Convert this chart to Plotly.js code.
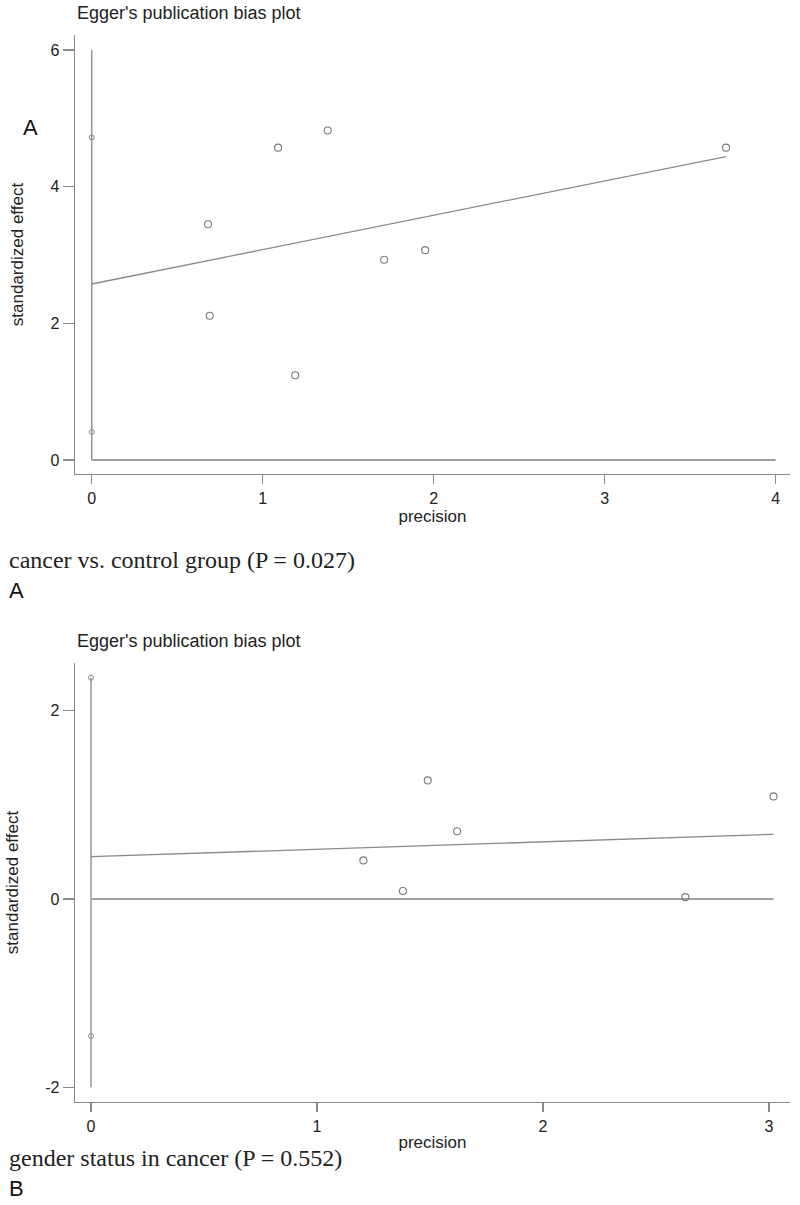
<!DOCTYPE html>
<html>
<head>
<meta charset="utf-8">
<script src="https://cdn.plot.ly/plotly-3.0.1.min.js"></script>
<style>
  html, body { margin: 0; padding: 0; background: #ffffff; }
  #chart { width: 800px; height: 1205px; }
</style>
</head>
<body>
<div id="chart"></div>
<script>
// ---------- Panel A: cancer vs. control group ----------
const precisionA = [0.68, 0.69, 1.09, 1.19, 1.38, 1.71, 1.95, 3.71];
const effectA    = [3.45, 2.11, 4.57, 1.24, 4.82, 2.93, 3.07, 4.57];
const ciPrecisionA = [0, 0];
const ciEffectA    = [0.41, 4.72];
const fitPrecisionA = [0, 3.71];
const fitEffectA    = [2.575, 4.44];
const vertLineA_y = [0, 6];
const horizLineA_x = [0, 4];
const xTicksA = [0, 1, 2, 3, 4];
const yTicksA = [0, 2, 4, 6];
const captionA = "cancer vs. control group (P = 0.027)";

// ---------- Panel B: gender status in cancer ----------
const precisionB = [1.205, 1.38, 1.49, 1.62, 2.63, 3.02];
const effectB    = [0.41, 0.085, 1.26, 0.72, 0.02, 1.09];
const ciPrecisionB = [0, 0];
const ciEffectB    = [-1.455, 2.35];
const fitPrecisionB = [0, 3.02];
const fitEffectB    = [0.45, 0.687];
const vertLineB_y = [-2, 2.35];
const horizLineB_x = [0, 3.02];
const xTicksB = [0, 1, 2, 3];
const yTicksB = [-2, 0, 2];
const captionB = "gender status in cancer (P = 0.552)";

const plotTitle = "Egger's publication bias plot";
const xTitle = "precision";
const yTitle = "standardized effect";

// ---------- styles ----------
const SANS = "Liberation Sans, Arial, sans-serif";
const SERIF = "Liberation Serif, Times New Roman, serif";
const AXC = "#8a8a8a";
const TXT = "#222222";
const W = 800, H = 1205;
const py = p => 1 - p / H;

function panelTraces(xa, ya, prec, eff, ciP, ciE, fitP, fitE, vY, hX) {
  return [
    { type: "scatter", mode: "lines", x: [0, 0], y: vY, xaxis: xa, yaxis: ya,
      line: { color: "#8f8f8f", width: 1.4 }, hoverinfo: "skip" },
    { type: "scatter", mode: "lines", x: hX, y: [0, 0], xaxis: xa, yaxis: ya,
      line: { color: "#a0a0a0", width: 2 }, hoverinfo: "skip" },
    { type: "scatter", mode: "lines", x: fitP, y: fitE, xaxis: xa, yaxis: ya,
      line: { color: "#8a8a8a", width: 1.3 } },
    { type: "scatter", mode: "markers", x: ciP, y: ciE, xaxis: xa, yaxis: ya,
      marker: { symbol: "circle-open", size: 5, color: "#8a8a8a", line: { width: 1 } } },
    { type: "scatter", mode: "markers", x: prec, y: eff, xaxis: xa, yaxis: ya,
      marker: { symbol: "circle-open", size: 7, color: "#7a7a7a", line: { width: 1.1 } } }
  ];
}

const data = [].concat(
  panelTraces("x", "y", precisionA, effectA, ciPrecisionA, ciEffectA, fitPrecisionA, fitEffectA, vertLineA_y, horizLineA_x),
  panelTraces("x2", "y2", precisionB, effectB, ciPrecisionB, ciEffectB, fitPrecisionB, fitEffectB, vertLineB_y, horizLineB_x)
);

function xAxis(domainY, anchor, range, ticks) {
  return {
    domain: [75 / W, 790 / W], anchor: anchor, range: range,
    tickmode: "array", tickvals: ticks, ticktext: ticks.map(String),
    showline: true, linecolor: AXC, linewidth: 1.3,
    ticks: "outside", ticklen: 9, tickcolor: AXC, tickwidth: 1.2,
    showgrid: false, zeroline: false,
    tickfont: { family: SANS, size: 16, color: TXT },
    title: { text: xTitle, font: { family: SANS, size: 17, color: TXT }, standoff: 2 }
  };
}
function yAxis(domain, anchor, range, ticks) {
  return {
    domain: domain, anchor: anchor, range: range,
    tickmode: "array", tickvals: ticks, ticktext: ticks.map(String),
    showline: true, linecolor: AXC, linewidth: 1.3,
    ticks: "outside", ticklen: 11, tickcolor: AXC, tickwidth: 1.2,
    showgrid: false, zeroline: false,
    tickfont: { family: SANS, size: 16, color: TXT },
    title: { text: yTitle, font: { family: SANS, size: 17, color: TXT }, standoff: 22 }
  };
}

const layout = {
  width: W, height: H,
  margin: { l: 0, r: 0, t: 0, b: 0 },
  paper_bgcolor: "#ffffff", plot_bgcolor: "#ffffff",
  showlegend: false,
  xaxis: xAxis(null, "y", [-0.098, 4.084], xTicksA),
  yaxis: yAxis([py(474), py(35)], "x", [-0.205, 6.218], yTicksA),
  xaxis2: xAxis(null, "y2", [-0.071, 3.093], xTicksB),
  yaxis2: yAxis([py(1102), py(663)], "x2", [-2.156, 2.507], yTicksB),
  annotations: [
    { text: plotTitle, xref: "paper", yref: "paper", x: 75 / W, y: py(13), xanchor: "left", yanchor: "middle",
      showarrow: false, font: { family: SANS, size: 18, color: TXT } },
    { text: "A", xref: "paper", yref: "paper", x: 30 / W, y: py(128), xanchor: "center", yanchor: "middle",
      showarrow: false, font: { family: SANS, size: 22, color: "#111" } },
    { text: captionA, xref: "paper", yref: "paper", x: 7 / W, y: py(560), xanchor: "left", yanchor: "middle",
      showarrow: false, font: { family: SERIF, size: 24, color: TXT } },
    { text: "A", xref: "paper", yref: "paper", x: 7 / W, y: py(590), xanchor: "left", yanchor: "middle",
      showarrow: false, font: { family: SANS, size: 22, color: "#111" } },
    { text: plotTitle, xref: "paper", yref: "paper", x: 75 / W, y: py(641), xanchor: "left", yanchor: "middle",
      showarrow: false, font: { family: SANS, size: 18, color: TXT } },
    { text: captionB, xref: "paper", yref: "paper", x: 7 / W, y: py(1158), xanchor: "left", yanchor: "middle",
      showarrow: false, font: { family: SERIF, size: 24, color: TXT } },
    { text: "B", xref: "paper", yref: "paper", x: 7 / W, y: py(1188), xanchor: "left", yanchor: "middle",
      showarrow: false, font: { family: SANS, size: 22, color: "#111" } }
  ]
};

Plotly.newPlot("chart", data, layout, { displayModeBar: false, staticPlot: true });
</script>
</body>
</html>
